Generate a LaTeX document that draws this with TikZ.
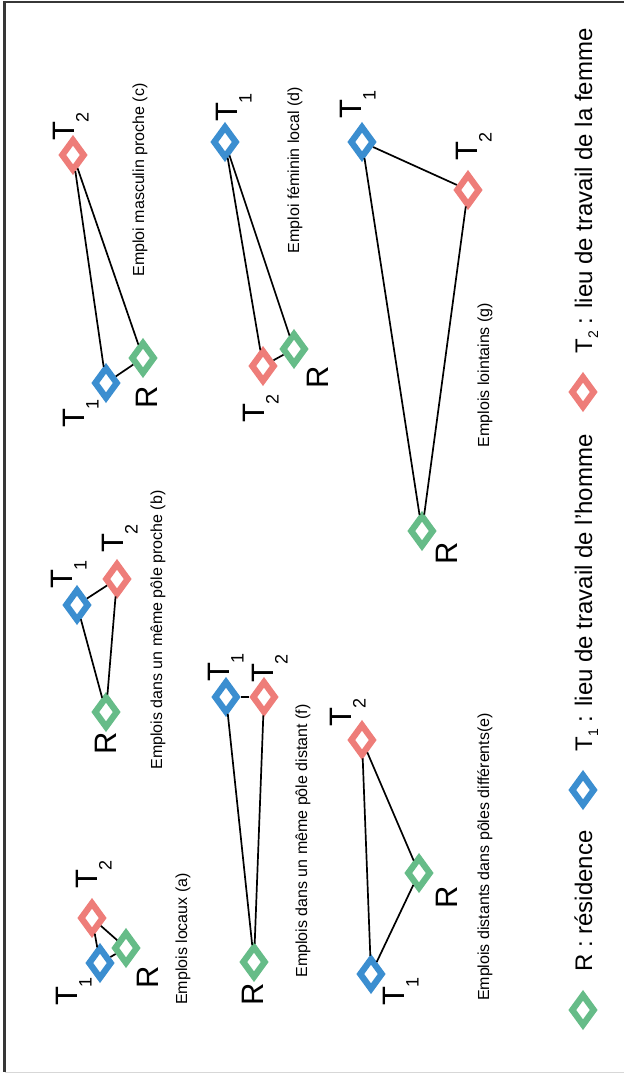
\documentclass[tikz,border=0pt]{standalone}
\usepackage{fontspec}
\setmainfont{Liberation Sans}
\usetikzlibrary{shapes.geometric}
\definecolor{colR}{RGB}{102,188,136}
\definecolor{colA}{RGB}{59,142,208}
\definecolor{colB}{RGB}{238,125,121}
\definecolor{framecol}{RGB}{55,55,55}
\definecolor{framelight}{RGB}{215,215,215}
\newcommand\bigT[1]{T\rlap{\kern-1pt\raisebox{-14pt}[0pt][0pt]{\fontsize{18}{18}\selectfont #1}}}
\newcommand\legT[1]{T\kern0.5pt\raisebox{-6pt}{\fontsize{14}{14}\selectfont #1}}
\tikzset{
  spot/.style={diamond, draw, line width=6.3pt, minimum width=24pt, minimum height=32pt, inner sep=0pt},
  diaR/.style={spot, draw=colR},
  diaA/.style={spot, draw=colA},
  diaB/.style={spot, draw=colB},
  lbltxt/.style={rotate=90, inner sep=0pt, font=\fontsize{31}{31}\selectfont},
  captxt/.style={rotate=90, inner sep=0pt, font=\fontsize{16}{16}\selectfont},
  legtxt/.style={rotate=90, inner sep=0pt, anchor=base west, font=\fontsize{24}{24}\selectfont},
  tie/.style={draw=black, line width=1.7pt},
}
\begin{document}
\begin{tikzpicture}[x=1pt,y=-1pt]
\useasboundingbox (0,0) rectangle (624,1073);
% frame
\draw[framecol, line width=2.2pt] (624,2) -- (4.5,2) -- (4.5,1072);
\draw[framelight, line width=1pt] (4.5,1072) -- (624,1072);

% (a)
\node[diaB] (aT2) at (92,918) {};
\node[diaA] (aT1) at (100,963) {};
\node[diaR] (aR) at (126,948) {};
\draw[tie] (aT1) -- (aT2);
\draw[tie] (aT2) -- (aR);
\draw[tie] (aT1) -- (aR);
\node[lbltxt] (aT1l) at (67,996) {\bigT{1}};
\node[lbltxt] (aT2l) at (87,879) {\bigT{2}};
\node[lbltxt] (aRl) at (148,977) {R};
\node[captxt] (aCap) at (183,939) {Emplois locaux (a)};

% (f)
\node[diaR] (fR) at (254,962) {};
\node[diaA] (fT1) at (226,697) {};
\node[diaB] (fT2) at (264,697) {};
\draw[tie] (fR) -- (fT1);
\draw[tie] (fR) -- (fT2);
\draw[tie] (fT1) -- (fT2);
\node[lbltxt] (fRl) at (253,994) {R};
\node[lbltxt] (fT1l) at (219,672) {\bigT{1}};
\node[lbltxt] (fT2l) at (263,673) {\bigT{2}};
\node[captxt] (fCap) at (303,841) {Emplois dans un même pôle distant (f)};

% (b)
\node[diaR] (bR) at (106,712) {};
\node[diaA] (bT1) at (77,605) {};
\node[diaB] (bT2) at (117,579) {};
\draw[tie] (bR) -- (bT1);
\draw[tie] (bR) -- (bT2);
\draw[tie] (bT1) -- (bT2);
\node[lbltxt] (bRl) at (106,743) {R};
\node[lbltxt] (bT1l) at (62,579) {\bigT{1}};
\node[lbltxt] (bT2l) at (113,543) {\bigT{2}};
\node[captxt] (bCap) at (158,630) {Emplois dans un même pôle proche (b)};

% (c)
\node[diaB] (cT2) at (73,155) {};
\node[diaA] (cT1) at (106,383) {};
\node[diaR] (cR) at (143,358) {};
\draw[tie] (cT2) -- (cT1);
\draw[tie] (cT2) -- (cR);
\draw[tie] (cT1) -- (cR);
\node[lbltxt] (cT2l) at (64,131) {\bigT{2}};
\node[lbltxt] (cT1l) at (74,418) {\bigT{1}};
\node[lbltxt] (cRl) at (147,397) {R};
\node[captxt] (cCap) at (140,180) {Emploi masculin proche (c)};

% (d)
\node[diaA] (dT1) at (225,142) {};
\node[diaB] (dT2) at (263,366) {};
\node[diaR] (dR) at (294,349) {};
\draw[tie] (dT1) -- (dT2);
\draw[tie] (dT1) -- (dR);
\draw[tie] (dT2) -- (dR);
\node[lbltxt] (dT1l) at (227,112) {\bigT{1}};
\node[lbltxt] (dT2l) at (254,413) {\bigT{2}};
\node[lbltxt] (dRl) at (318,377) {R};
\node[captxt] (dCap) at (295,170) {Emploi féminin local (d)};

% (g)
\node[diaA] (gT1) at (362,142) {};
\node[diaB] (gT2) at (468,190) {};
\node[diaR] (gR) at (422,531) {};
\draw[tie] (gT1) -- (gT2);
\draw[tie] (gT1) -- (gR);
\draw[tie] (gT2) -- (gR);
\node[lbltxt] (gT1l) at (351,109) {\bigT{1}};
\node[lbltxt] (gT2l) at (467,151) {\bigT{2}};
\node[lbltxt] (gRl) at (447,553) {R};
\node[captxt] (gCap) at (485,375) {Emplois lointains (g)};

% (e)
\node[diaB] (eT2) at (362,740) {};
\node[diaR] (eR) at (419,873) {};
\node[diaA] (eT1) at (371,974) {};
\draw[tie] (eT2) -- (eR);
\draw[tie] (eT2) -- (eT1);
\draw[tie] (eR) -- (eT1);
\node[lbltxt] (eT2l) at (341,717) {\bigT{2}};
\node[lbltxt] (eRl) at (447,897) {R};
\node[lbltxt] (eT1l) at (394,996) {\bigT{1}};
\node[captxt] (eCap) at (485,857) {Emplois distants dans pôles différents(e)};

% legend
\node[diaR] (lR) at (583,1010) {};
\node[legtxt] (lRt) at (592,972) {R : résidence};
\node[diaA] (lA) at (583,790) {};
\node[legtxt] (lAt) at (592,752) {\legT{1} : lieu de travail de l’homme};
\node[diaB] (lB) at (583,392) {};
\node[legtxt] (lBt) at (592,354) {\legT{2} : lieu de travail de la femme};
\end{tikzpicture}
\end{document}
